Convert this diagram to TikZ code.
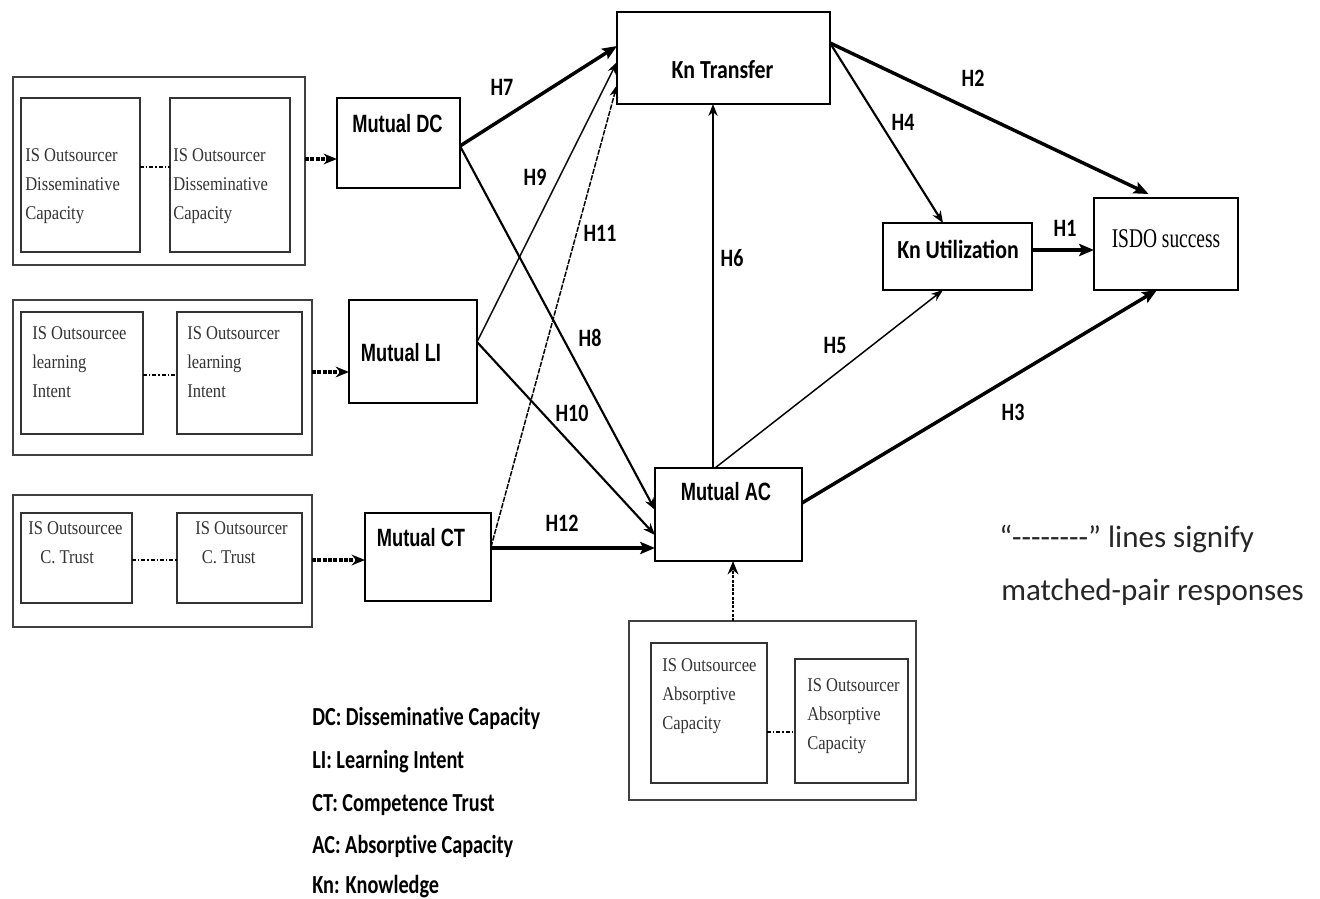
\documentclass[tikz,border=0pt]{standalone}
\usepackage{fontspec}
\setmainfont{Liberation Serif}
\newfontfamily\mutfont{Liberation Sans}[FakeStretch=0.73]
\newfontfamily\knfont{Carlito}[FakeStretch=0.84]
\newfontfamily\hfont{Carlito}[FakeStretch=0.8]
\newfontfamily\legfont{Carlito}[FakeStretch=0.78, Ligatures=NoCommon]
\newfontfamily\notefont{Carlito}
\newfontfamily\serfont{Liberation Serif}[FakeStretch=0.85]
\newfontfamily\isdofont{Liberation Serif}[FakeStretch=0.72]
\usetikzlibrary{arrows.meta}
\newlength\upx
\setlength\upx{0.75pt}
\tikzset{
  box/.style={draw, line width=1.1pt, inner sep=0pt, outer sep=0pt},
  grpbox/.style={draw=black!75, line width=1.1pt, inner sep=0pt, outer sep=0pt},
  inbox/.style={draw=black!80, line width=1.1pt, inner sep=0pt, outer sep=0pt},
  intext/.style={inner sep=0pt, anchor=north west, align=left, text=black!80,
     font=\serfont\fontsize{14.6}{22}\selectfont},
  mutlbl/.style={inner sep=0pt, font=\mutfont\bfseries\fontsize{18.75}{20}\selectfont},
  knlbl/.style={inner sep=0pt, font=\knfont\bfseries\fontsize{19.5}{20}\selectfont},
  hlbl/.style={inner sep=0pt, font=\hfont\bfseries\fontsize{18.75}{20}\selectfont},
  leglbl/.style={inner sep=0pt, anchor=base west, font=\legfont\bfseries\fontsize{19.5}{20}\selectfont},
  notelbl/.style={inner sep=0pt, anchor=base west, text=black!85, font=\notefont\fontsize{23.25}{26}\selectfont},
  pairline/.style={line width=1.6pt, dash pattern=on 3pt off 1.5pt on 1pt off 1.5pt},
  feed/.style={line width=2.4pt, dash pattern=on 3pt off 1pt, -{Stealth[length=10pt,width=8pt]}},
  thickarr/.style={line width=2.6pt, -{Stealth[length=11pt,width=9pt,inset=2pt]}},
  medarr/.style={line width=1.6pt, -{Stealth[length=9pt,width=7pt]}},
  thinarr/.style={line width=1.1pt, -{Stealth[length=9pt,width=6.5pt]}},
}
\begin{document}
\begin{tikzpicture}[x=0.75pt, y=-0.75pt]
\useasboundingbox (0,0) rectangle (1320,899);

% ---- DC group
\node[grpbox, minimum width=292\upx, minimum height=188\upx] (o1) at (159,171) {};
\node[inbox, minimum width=119\upx, minimum height=154\upx] (i1a) at (80.5,175) {};
\node[inbox, minimum width=120\upx, minimum height=154\upx] (i1b) at (230,175) {};
\node[intext] (t1a) at (25,148) {IS Outsourcer\\Disseminative\\Capacity};
\node[intext] (t1b) at (173,148) {IS Outsourcer\\Disseminative\\Capacity};
\node[box, minimum width=123\upx, minimum height=90\upx] (mdc) at (398.5,143) {};
\node[mutlbl] (lmdc) at (397.5,124) {Mutual DC};

% ---- LI group
\node[grpbox, minimum width=299\upx, minimum height=155\upx] (o2) at (162.5,377.5) {};
\node[inbox, minimum width=122\upx, minimum height=122\upx] (i2a) at (82,373) {};
\node[inbox, minimum width=125\upx, minimum height=122\upx] (i2b) at (239.5,373) {};
\node[intext] (t2a) at (32,326) {IS Outsourcee\\learning\\Intent};
\node[intext] (t2b) at (187,326) {IS Outsourcer\\learning\\Intent};
\node[box, minimum width=128\upx, minimum height=103\upx] (mli) at (413,351.5) {};
\node[mutlbl] (lmli) at (401,353) {Mutual LI};

% ---- CT group
\node[grpbox, minimum width=299\upx, minimum height=132\upx] (o3) at (162.5,561) {};
\node[inbox, minimum width=111\upx, minimum height=90\upx] (i3a) at (76.5,558) {};
\node[inbox, minimum width=125\upx, minimum height=90\upx] (i3b) at (239.5,558) {};
\node[intext] (t3a) at (28,521) {IS Outsourcee\\\hspace*{9pt}C. Trust};
\node[intext] (t3b) at (195,521) {IS Outsourcer\\\hspace*{5pt}C. Trust};
\node[box, minimum width=126\upx, minimum height=88\upx] (mct) at (428,557) {};
\node[mutlbl] (lmct) at (421,538) {Mutual CT};

% ---- central nodes
\node[box, minimum width=213\upx, minimum height=92\upx] (kt) at (723.5,58) {};
\node[knlbl] (lkt) at (722.5,70) {Kn Transfer};
\node[box, minimum width=147\upx, minimum height=93\upx] (mac) at (728.5,514.5) {};
\node[mutlbl] (lmac) at (726,492) {Mutual AC};
\node[box, minimum width=149\upx, minimum height=67\upx] (ku) at (957.5,256.5) {};
\node[knlbl] (lku) at (958,249) {Kn Utilization};
\node[box, minimum width=144\upx, minimum height=92\upx] (isdo) at (1166,244) {};
\node[inner sep=0pt, font=\isdofont\fontsize{20.25}{22}\selectfont] (lisdo) at (1166,239) {ISDO success};

% ---- AC group
\node[grpbox, minimum width=287\upx, minimum height=179\upx] (o4) at (772.5,710.5) {};
\node[inbox, minimum width=116\upx, minimum height=140\upx] (i4a) at (709,713) {};
\node[inbox, minimum width=113\upx, minimum height=124\upx] (i4b) at (851.5,721) {};
\node[intext] (t4a) at (662,658) {IS Outsourcee\\Absorptive\\Capacity};
\node[intext] (t4b) at (807,678) {IS Outsourcer\\Absorptive\\Capacity};

% ---- matched-pair lines
\draw[pairline] (i1a.east |- 0,167) -- (i1b.west |- 0,167);
\draw[pairline] (i2a.east |- 0,375) -- (i2b.west |- 0,375);
\draw[pairline] (i3a.east |- 0,560) -- (i3b.west |- 0,560);
\draw[pairline] (i4a.east |- 0,732) -- (i4b.west |- 0,732);

% ---- feeds into mutual constructs
\draw[feed] (o1.east |- 0,159) -- (mdc.west |- 0,159);
\draw[feed] (o2.east |- 0,372) -- (mli.west |- 0,372);
\draw[feed] (o3.east |- 0,560) -- (mct.west |- 0,560);
\draw[line width=2.2pt, densely dotted, -{Stealth[length=10pt,width=8pt]}] (o4.north -| 733,0) -- (mac.south -| 733,0);

% ---- hypotheses
\draw[thickarr] (mdc.east |- 0,146) -- (kt.west |- 0,46);
\draw[medarr] (mdc.east |- 0,146) -- (mac.west |- 0,510);
\draw[thinarr] (mli.east |- 0,342) -- (kt.west |- 0,62);
\draw[medarr] (mli.east |- 0,342) -- (mac.west |- 0,535);
\draw[thinarr, dash pattern=on 4pt off 1pt] (mct.east |- 0,547) -- (kt.west |- 0,85);
\draw[thickarr] (mct.east |- 0,548) -- (mac.west |- 0,548);
\draw[medarr] (mac.north -| 713,0) -- (kt.south -| 713,0);
\draw[thinarr] (mac.north -| 715,0) -- (ku.south -| 943,0);
\draw[thickarr] (mac.east |- 0,503) -- (isdo.south -| 1157,0);
\draw[medarr] (kt.east |- 0,43) -- (ku.north -| 943,0);
\draw[thickarr, shorten >=7pt] (kt.east |- 0,43) -- (isdo.north -| 1157,0);
\draw[thickarr] (ku.east |- 0,250) -- (isdo.west |- 0,250);

% ---- hypothesis labels
\node[hlbl] (h7) at (502,87) {H7};
\node[hlbl] (h9) at (535,177) {H9};
\node[hlbl] (h11) at (600,233) {H11};
\node[hlbl] (h6) at (732,258) {H6};
\node[hlbl] (h8) at (590,338) {H8};
\node[hlbl] (h10) at (572,413) {H10};
\node[hlbl] (h12) at (562,523) {H12};
\node[hlbl] (h5) at (835,345) {H5};
\node[hlbl] (h3) at (1013,412) {H3};
\node[hlbl] (h4) at (903,122) {H4};
\node[hlbl] (h2) at (973,78) {H2};
\node[hlbl] (h1) at (1065,228) {H1};

% ---- legend
\node[leglbl] (lg1) at (312,725.5) {DC: Disseminative Capacity};
\node[leglbl] (lg2) at (312,768.5) {LI: Learning Intent};
\node[leglbl] (lg3) at (312,811.5) {CT: Competence Trust};
\node[leglbl] (lg4) at (312,853.5) {AC: Absorptive Capacity};
\node[leglbl] (lg5) at (312,893.5) {Kn: Knowledge};

% ---- note
\node[notelbl] (n1) at (999,547) {“-{}-{}-{}-{}-{}-{}-{}-” lines signify};
\node[notelbl] (n2) at (1001,600) {matched-pair responses};
\end{tikzpicture}
\end{document}
